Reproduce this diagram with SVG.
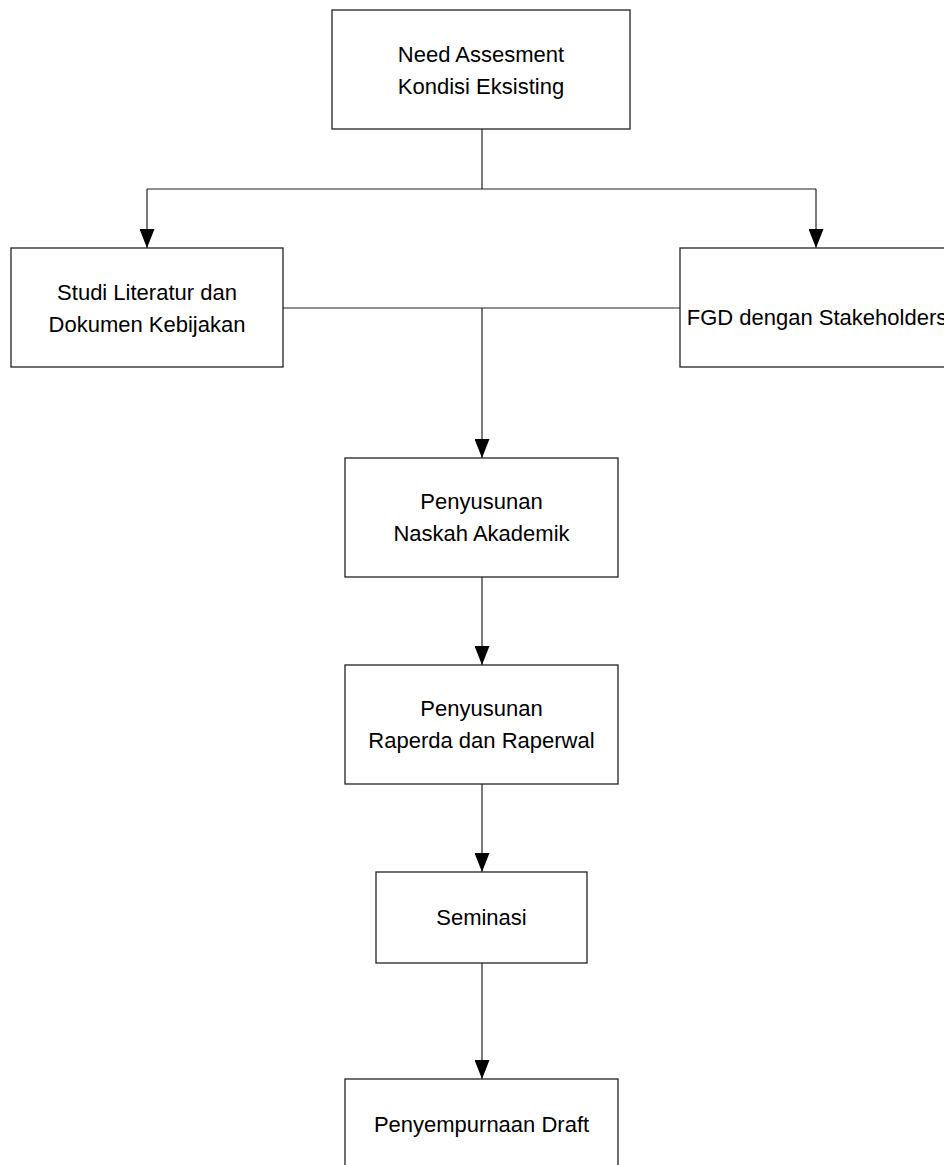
<svg xmlns="http://www.w3.org/2000/svg" width="944" height="1165" viewBox="0 0 944 1165">
<style>
.box{fill:#fff;stroke:#222;stroke-width:1.3}
.lbl{font-family:"Liberation Sans",Arial,sans-serif;font-size:22px;fill:#000;text-anchor:middle}
.con{fill:none;stroke:#222;stroke-width:1.2}
</style>
<defs>
<marker id="arr" markerUnits="userSpaceOnUse" markerWidth="19" markerHeight="15" refX="19" refY="7.5" orient="auto" viewBox="0 0 19 15">
<path d="M0,0 L19,7.5 L0,15 Z" fill="#000"/>
</marker>
</defs>
<rect width="944" height="1165" fill="#fff"/>
<g id="connectors">
<path class="con" d="M482,129 V189"/>
<path class="con" d="M147,189 H816"/>
<path class="con" d="M147,189 V248" marker-end="url(#arr)"/>
<path class="con" d="M816,189 V248" marker-end="url(#arr)"/>
<path class="con" d="M283,308 H680"/>
<path class="con" d="M482,308 V458" marker-end="url(#arr)"/>
<path class="con" d="M482,577 V665" marker-end="url(#arr)"/>
<path class="con" d="M482,784 V872" marker-end="url(#arr)"/>
<path class="con" d="M482,963 V1079" marker-end="url(#arr)"/>
</g>
<g id="need">
<rect class="box" x="332" y="10" width="298" height="119"/>
<text class="lbl" x="481" y="62">Need Assesment</text>
<text class="lbl" x="481" y="94">Kondisi Eksisting</text>
</g>
<g id="studi">
<rect class="box" x="11" y="248" width="272" height="119"/>
<text class="lbl" x="147" y="300">Studi Literatur dan</text>
<text class="lbl" x="147" y="332">Dokumen Kebijakan</text>
</g>
<g id="fgd">
<rect class="box" x="680" y="248" width="272" height="119"/>
<text class="lbl" x="817" y="325">FGD dengan Stakeholders</text>
</g>
<g id="naskah">
<rect class="box" x="345" y="458" width="273" height="119"/>
<text class="lbl" x="481.5" y="509">Penyusunan</text>
<text class="lbl" x="481.5" y="541">Naskah Akademik</text>
</g>
<g id="raperda">
<rect class="box" x="345" y="665" width="273" height="119"/>
<text class="lbl" x="481.5" y="716">Penyusunan</text>
<text class="lbl" x="481.5" y="748">Raperda dan Raperwal</text>
</g>
<g id="seminasi">
<rect class="box" x="376" y="872" width="211" height="91"/>
<text class="lbl" x="481.5" y="925">Seminasi</text>
</g>
<g id="draft">
<rect class="box" x="345" y="1079" width="273" height="119"/>
<text class="lbl" x="481.5" y="1132">Penyempurnaan Draft</text>
</g>
</svg>
